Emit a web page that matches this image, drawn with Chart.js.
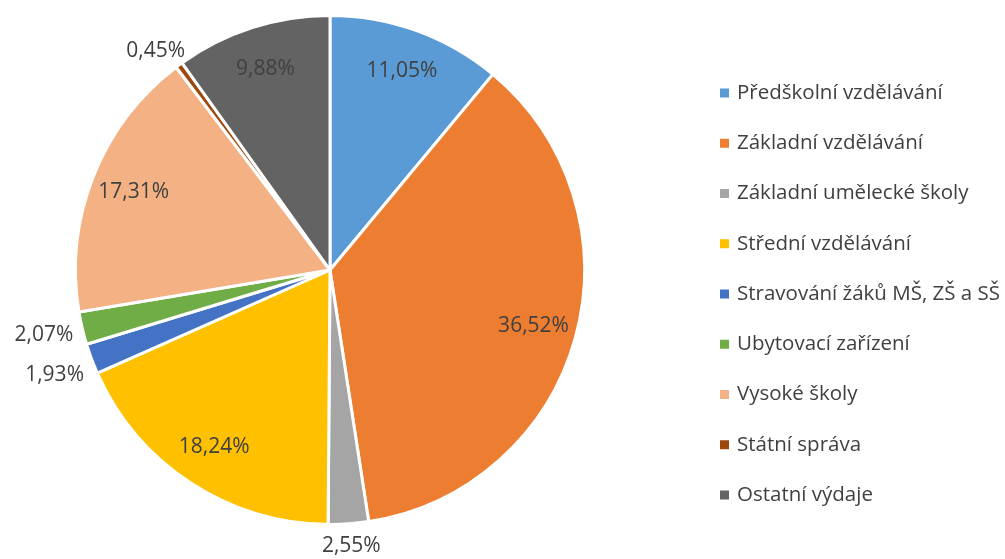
<!DOCTYPE html>
<html><head><meta charset="utf-8">
<script src="https://cdn.jsdelivr.net/npm/chart.js@4"></script>
<style>html,body{margin:0;padding:0;background:#fff}#wrap{width:1005px;height:559px;position:relative}</style>
</head><body><div id="wrap"><canvas id="c"></canvas></div>
<script>
const categories = ["Předškolní vzdělávání","Základní vzdělávání","Základní umělecké školy","Střední vzdělávání","Stravování žáků MŠ, ZŠ a SŠ","Ubytovací zařízení","Vysoké školy","Státní správa","Ostatní výdaje"];
const shares = [11.05,36.52,2.55,18.24,1.93,2.07,17.31,0.45,9.88];
const colors = ["#5B9BD5","#ED7D31","#A5A5A5","#FFC000","#4472C4","#70AD47","#F4B183","#9E480E","#636363"];
const outsideThreshold = 3;
const FONT = "'Open Sans', sans-serif";
const TXT = "#404040";

const fmt = v => v.toFixed(2).replace('.', ',') + '%';

const labelPlugin = {
  id: 'labels',
  afterDatasetsDraw(chart) {
    const ctx = chart.ctx;
    const meta = chart.getDatasetMeta(0);
    ctx.save();
    ctx.font = "21px " + FONT;
    ctx.fillStyle = TXT;
    ctx.textAlign = 'center'; ctx.textBaseline = 'middle';
    const outside = [];
    meta.data.forEach((arc, i) => {
      const v = shares[i];
      const mid = (arc.startAngle + arc.endAngle) / 2;
      const dx = Math.cos(mid), dy = Math.sin(mid);
      const r = arc.outerRadius;
      const t = fmt(v);
      if (v >= outsideThreshold) {
        const d = r * 0.83;
        ctx.fillText(t, arc.x + dx * d, arc.y + dy * d);
      } else {
        const d = r + 10;
        const w = ctx.measureText(t).width, h = 21;
        outside.push({ t, x: arc.x + dx * d + dx * w / 2, y: arc.y + dy * d + dy * h / 2 + 2, left: dx < 0 });
      }
    });
    [true, false].forEach(side => {
      const grp = outside.filter(o => o.left === side).sort((a, b) => a.y - b.y);
      for (let k = 1; k < grp.length; k++) {
        if (grp[k].y - grp[k - 1].y < 40) grp[k].y = grp[k - 1].y + 40;
      }
    });
    outside.forEach(o => ctx.fillText(o.t, o.x, o.y));
    ctx.restore();
  }
};

const legendPlugin = {
  id: 'sideLegend',
  afterDraw(chart) {
    const ctx = chart.ctx;
    ctx.save();
    ctx.font = "20.5px " + FONT;
    ctx.textAlign = 'left'; ctx.textBaseline = 'middle';
    const x0 = 720, y0 = 93, step = 50.25;
    chart.data.labels.forEach((lab, i) => {
      const y = y0 + i * step;
      ctx.fillStyle = colors[i];
      ctx.fillRect(x0, y - 4.5, 9, 9);
      ctx.fillStyle = TXT;
      ctx.fillText(lab, x0 + 17, y);
    });
    ctx.restore();
  }
};

new Chart(document.getElementById('c'), {
  type: 'pie',
  data: {
    labels: categories,
    datasets: [{ data: shares, backgroundColor: colors, borderColor: '#ffffff', borderWidth: 3 }]
  },
  options: {
    responsive: true, maintainAspectRatio: false, animation: false,
    layout: { padding: { left: 73, right: 418, top: 14, bottom: 33 } },
    plugins: { legend: { display: false }, tooltip: { enabled: false } }
  },
  plugins: [labelPlugin, legendPlugin]
});
</script></body></html>
